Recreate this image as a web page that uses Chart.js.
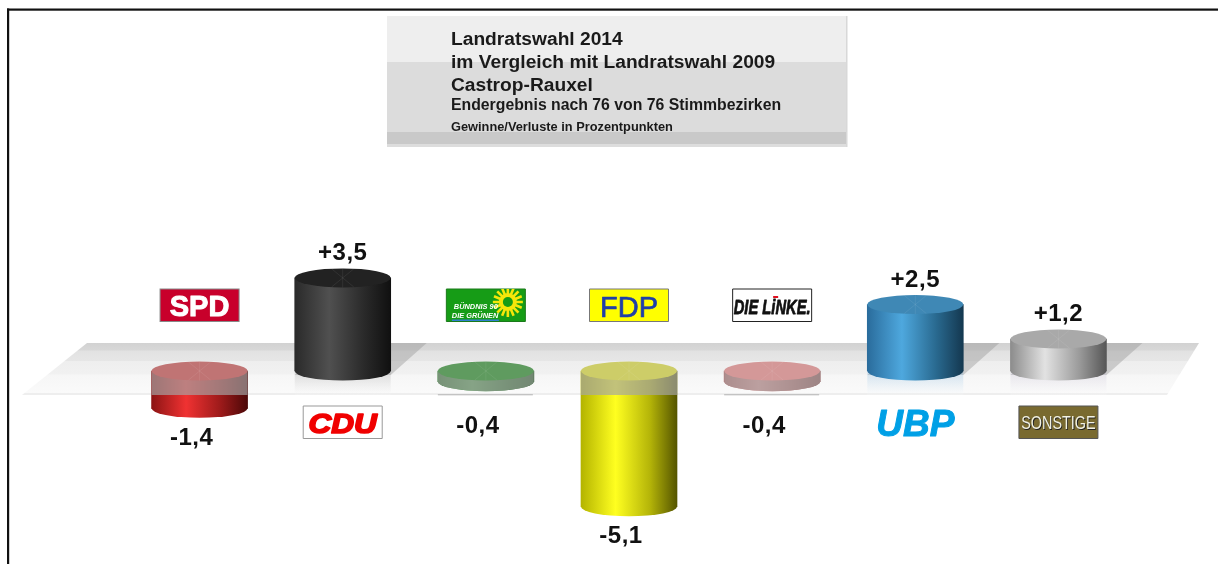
<!DOCTYPE html>
<html lang="de">
<head>
<meta charset="utf-8">
<title>Landratswahl 2014 Castrop-Rauxel</title>
<style>
html,body{margin:0;padding:0;background:#fff;overflow:hidden}
#wrap{position:relative;width:1218px;height:564px}
canvas{display:block;filter:blur(0.35px)}
</style>
<script src="https://cdn.jsdelivr.net/npm/chart.js@4"></script>
</head>
<body>
<div id="wrap"><canvas id="c" width="1218" height="564"></canvas></div>
<script>
// ---- data ----
const categories = ['SPD','CDU','GRÜNE','FDP','DIE LINKE','UBP','SONSTIGE'];
const changes    = [-1.4, 3.5, -0.4, -5.1, -0.4, 2.5, 1.2];
const titleLines = [
  'Landratswahl 2014',
  'im Vergleich mit Landratswahl 2009',
  'Castrop-Rauxel',
  'Endergebnis nach 76 von 76 Stimmbezirken',
  'Gewinne/Verluste in Prozentpunkten'
];
// ---- styles ----
const FONT = '"Liberation Sans", Arial, sans-serif';
const sideStops = [
  ['#8c1414','#f03232','#9c1a1a','#4c0808'],
  ['#2a2a2a','#505050','#2a2a2a','#101010'],
  ['#2a702a','#5fae5f','#2f7030','#1a4a1a'],
  ['#b4b400','#ffff20','#b4b408','#555500'],
  ['#b06060','#e8a0a0','#b06868','#7a4040'],
  ['#2a6c9c','#4ea8de','#29698f','#143850'],
  ['#8c8c8c','#e2e2e2','#9a9a9a','#565656']
];
const topColors = ['#c07474','#222222','#5f9b5f','#cdcd68','#d49898','#3f88b5','#a9a9a9'];
const reflectColors = ['', 'rgba(120,120,120,.22)', '', '', '', 'rgba(70,150,210,.22)', 'rgba(170,160,190,.22)'];
const overlaySide = ['rgba(165,165,165,.68)','', 'rgba(150,160,150,.72)','rgba(165,165,165,.68)','rgba(170,160,160,.72)','',''];
const RX = 48, RY = 9.5, FLOOR_TOP = 343, FLOOR_BOTTOM = 395;

function sideGradient(ctx2d, x, i){
  const g = ctx2d.createLinearGradient(x-RX,0,x+RX,0);
  const s = sideStops[i];
  g.addColorStop(0,s[0]); g.addColorStop(.36,s[1]); g.addColorStop(.72,s[2]); g.addColorStop(1,s[3]);
  return g;
}
function barFill(ctx){
  const ch=ctx.chart;
  if(!ch.chartArea||ctx.dataIndex===undefined) return '#888888';
  return sideGradient(ch.ctx,ch.scales.x.getPixelForValue(ctx.dataIndex),ctx.dataIndex);
}
function ellipse(c,x,y,fill){
  c.beginPath(); c.ellipse(x,y,RX,RY,0,0,Math.PI*2); c.fillStyle=fill; c.fill();
}
function topFace(c,x,y,fill){
  ellipse(c,x,y,fill);
  c.strokeStyle='rgba(255,255,255,.07)'; c.lineWidth=1;
  [[-11,-9],[11,-9],[0,-9.5]].forEach(d=>{
    c.beginPath(); c.moveTo(x+d[0],y+d[1]); c.lineTo(x-d[0],y-d[1]); c.stroke();
  });
}
function text(c,str,x,y,font,color,align){
  c.font=font; c.fillStyle=color; c.textAlign=align||'left'; c.textBaseline='alphabetic'; c.fillText(str,x,y);
}
function heavy(c,str,x,y,font,color,w){
  text(c,str,x,y,font,color,'center');
  c.strokeStyle=color; c.lineWidth=w; c.lineJoin='round'; c.strokeText(str,x,y);
}

const logos = {
  0(c,x){ box(c,x,289,'#c8002b','#888');
    heavy(c,'SPD',x,316,'bold 29px '+FONT,'#fff',1); },
  1(c,x){ box(c,x,406,'#fff','#999');
    c.save(); c.translate(x,433); c.scale(1.05,.95);
    heavy(c,'CDU',0,0,'italic 900 30px '+FONT,'#f00000',1.8);
    c.restore(); },
  2(c,x){ box(c,x,289,'#169c16','#1a7a1a');
    c.save(); c.beginPath(); c.rect(x-39.5,289,79,32); c.clip();
    const sx=x+22, sy=302;
    c.strokeStyle='#f5e60a'; c.lineWidth=2.6;
    for(let a=0;a<16;a++){ const t=a*Math.PI/8;
      c.beginPath(); c.moveTo(sx+6*Math.cos(t),sy+6*Math.sin(t)); c.lineTo(sx+15*Math.cos(t),sy+15*Math.sin(t)); c.stroke(); }
    c.beginPath(); c.arc(sx,sy,9,0,Math.PI*2); c.fillStyle='#f5e60a'; c.fill();
    c.beginPath(); c.arc(sx,sy,5,0,Math.PI*2); c.fillStyle='#169c16'; c.fill();
    c.fillStyle='#2f7fd0'; c.fillRect(x-34,319.5,47,1.5);
    c.restore();
    text(c,'BÜNDNIS 90',x-32,309,'italic bold 7.4px '+FONT,'#fff');
    text(c,'DIE GRÜNEN',x-34,317.5,'italic bold 7.4px '+FONT,'#fff'); },
  3(c,x){ box(c,x,289,'#ffff00','#777');
    heavy(c,'FDP',x,317,'29px '+FONT,'#1f3fa8',.7); },
  4(c,x){ box(c,x,289,'#fff','#222');
    c.save(); c.translate(x,314); c.scale(.7,1);
    heavy(c,'DIE LiNKE.',0,0,'italic 900 21px '+FONT,'#111',.8);
    c.restore();
    c.fillStyle='#e01020'; c.fillRect(x+1,296,5,2); },
  5(c,x){ heavy(c,'UBP',x,436,'italic bold 37px '+FONT,'#00a0e6',1); },
  6(c,x){ box(c,x,406,'#796a30','#555');
    c.save(); c.translate(x,429); c.scale(.8,1);
    text(c,'SONSTIGE',1,1,'18px '+FONT,'#222','center');
    text(c,'SONSTIGE',0,0,'18px '+FONT,'#f2f2e4','center');
    c.restore(); }
};
function box(c,x,y,fill,stroke){
  c.fillStyle=fill; c.fillRect(x-39.5,y,79,32.5);
  c.strokeStyle=stroke; c.lineWidth=1; c.strokeRect(x-39.5,y,79,32.5);
}

const scene = {
  id:'scene',
  beforeDatasetsDraw(chart){
    const c=chart.ctx, xs=chart.scales.x;
    c.save();
    // page frame
    c.fillStyle='#111'; c.fillRect(7,8.5,1211,2.2); c.fillRect(7,8.5,2.2,556);
    // title panel
    c.fillStyle='#eeeeee'; c.fillRect(387,16,460,46);
    c.fillStyle='#dcdcdc'; c.fillRect(387,62,460,70);
    c.fillStyle='#c9c9c9'; c.fillRect(387,132,460,12);
    c.fillStyle='#dddddd'; c.fillRect(387,144,460,3);
    c.fillStyle='#d8d8d8'; c.fillRect(846,16,1.5,131);
    const tl=[['bold 19.2px',45],['bold 19.2px',68],['bold 19.2px',91],['bold 15.8px',110],['bold 12.8px',131]];
    titleLines.forEach((t,i)=>text(c,t,451,tl[i][1],tl[i][0]+' '+FONT,'#1a1a1a'));
    // floor
    c.beginPath(); c.moveTo(87,FLOOR_TOP); c.lineTo(1199,FLOOR_TOP); c.lineTo(1167,FLOOR_BOTTOM); c.lineTo(22,FLOOR_BOTTOM); c.closePath();
    const g=c.createLinearGradient(0,FLOOR_TOP,0,FLOOR_BOTTOM);
    g.addColorStop(0,'#d2d2d2'); g.addColorStop(.14,'#d8d8d8'); g.addColorStop(.15,'#e2e2e2');
    g.addColorStop(.34,'#e6e6e6'); g.addColorStop(.35,'#eeeeee'); g.addColorStop(.6,'#f1f1f1');
    g.addColorStop(.61,'#f6f6f6'); g.addColorStop(.96,'#fafafa'); g.addColorStop(.97,'#eeeeee'); g.addColorStop(1,'#eeeeee');
    c.fillStyle=g; c.fill();
    // shadows and reflections of the rising bars
    changes.forEach((v,i)=>{
      const x=xs.getPixelForValue(i);
      if(v>0){
        c.beginPath();
        c.moveTo(x-RX,375); c.lineTo(x+RX,375); c.lineTo(x+RX+36,FLOOR_TOP); c.lineTo(x-RX+36,FLOOR_TOP); c.closePath();
        c.fillStyle='rgba(150,150,150,.42)'; c.fill();
        const r=c.createLinearGradient(0,372,0,FLOOR_BOTTOM);
        r.addColorStop(0,reflectColors[i]); r.addColorStop(1,'rgba(255,255,255,.15)');
        c.fillStyle=r; c.fillRect(x-RX,372,RX*2,FLOOR_BOTTOM-372);
      } else if(chart.scales.y.getPixelForValue(v)+RY<FLOOR_BOTTOM){
        c.fillStyle='rgba(130,130,130,.4)'; c.fillRect(x-RX,FLOOR_BOTTOM-1,RX*2-1,1.4);
      }
    });
    // party logos
    changes.forEach((v,i)=>logos[i](c,xs.getPixelForValue(i)));
    c.restore();
  },
  afterDatasetDraw(chart,args){
    const c=chart.ctx, meta=args.meta;
    c.save();
    meta.data.forEach((el,i)=>{
      const v=meta._parsed[i] && meta._parsed[i].y;
      if(v===null||v===undefined||isNaN(v)) return;
      const x=el.x, yv=el.y, y0=el.base;
      if(v>0){
        ellipse(c,x,y0,sideGradient(c,x,i));
        topFace(c,x,yv,topColors[i]);
      } else {
        ellipse(c,x,yv,sideGradient(c,x,i));
        // part of the bar seen through the floor
        c.save();
        c.beginPath(); c.rect(x-RX-1,y0,RX*2+2,FLOOR_BOTTOM-y0); c.clip();
        c.beginPath();
        c.moveTo(x-RX,y0); c.lineTo(x+RX,y0); c.lineTo(x+RX,yv);
        c.ellipse(x,yv,RX,RY,0,0,Math.PI); c.closePath();
        c.fillStyle=overlaySide[i]; c.fill();
        c.restore();
        topFace(c,x,y0,topColors[i]);
      }
    });
    c.restore();
  },
  afterDatasetsDraw(chart){
    const c=chart.ctx, xs=chart.scales.x, ys=chart.scales.y;
    c.save();
    changes.forEach((v,i)=>{
      const s=(v>0?'+':'')+v.toFixed(1).replace('.',',');
      const x=xs.getPixelForValue(i), y=ys.getPixelForValue(v);
      c.letterSpacing='0.5px';
      if(v>0) text(c,s,x,y-18,'bold 24px '+FONT,'#111','center');
      else text(c,s,x-8,Math.max(y+RY+27,433),'bold 24px '+FONT,'#111','center');
    });
    c.restore();
  }
};

new Chart(document.getElementById('c'),{
  type:'bar',
  data:{
    labels:categories,
    datasets:[
      {label:'Gewinne', data:changes.map(v=>v>0?v:null), backgroundColor:barFill, barThickness:96, borderWidth:0},
      {label:'Verluste', data:changes.map(v=>v<0?v:null), backgroundColor:barFill, barThickness:96, borderWidth:0}
    ]
  },
  options:{
    responsive:false, animation:false,
    layout:{padding:{left:128,right:88,top:238,bottom:33.4}},
    plugins:{legend:{display:false},tooltip:{enabled:false},title:{display:false}},
    scales:{
      x:{display:false,stacked:true},
      y:{display:false,stacked:true,min:-6,max:5}
    }
  },
  plugins:[scene]
});
</script>
</body>
</html>
